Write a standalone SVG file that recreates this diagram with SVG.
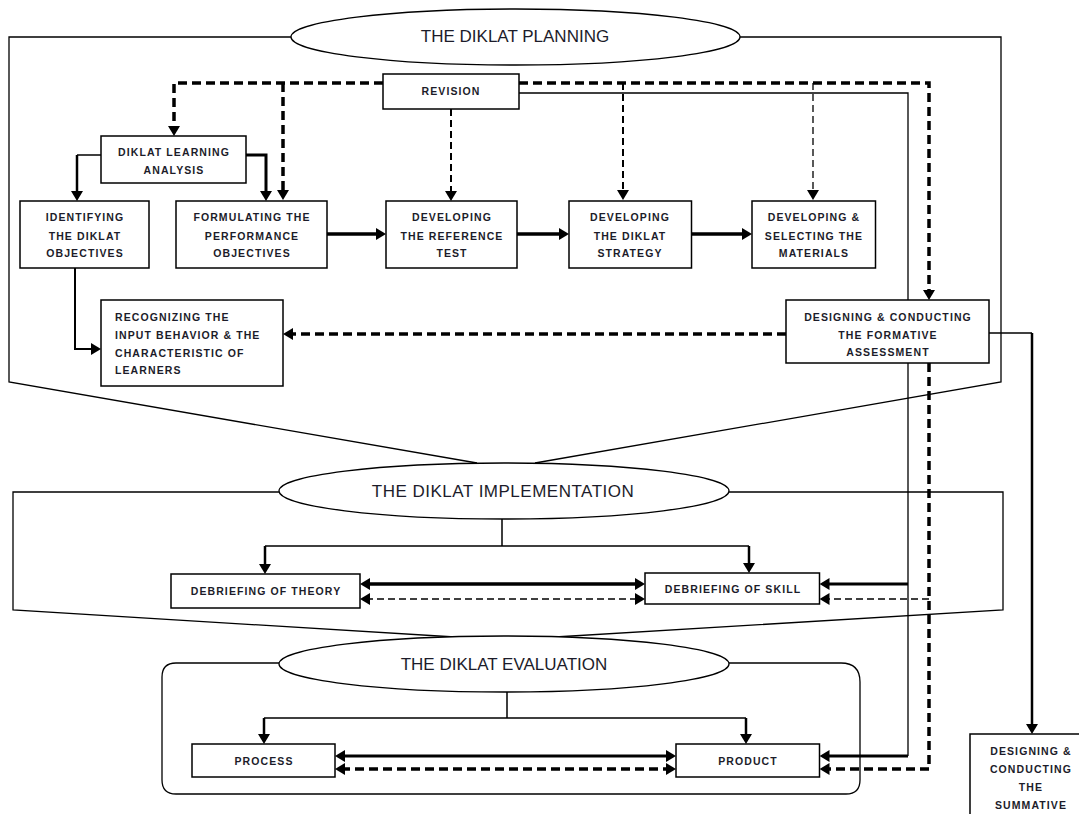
<svg xmlns="http://www.w3.org/2000/svg" width="1079" height="814" viewBox="0 0 1079 814">
<style>
.frame{fill:none;stroke:#000;stroke-width:1.3}
.box{fill:#fff;stroke:#000;stroke-width:1.5}
.ell{fill:#fff;stroke:#000;stroke-width:1.3}
.t{font-family:"Liberation Sans",Arial,sans-serif;font-size:10.5px;font-weight:bold;letter-spacing:1.1px;fill:#1c1c2a}
.c{text-anchor:middle}
.big{font-family:"Liberation Sans",Arial,sans-serif;font-size:17px;fill:#1c1c2a;text-anchor:middle}
.s{fill:none;stroke:#000}
.dk{stroke-width:3.5;stroke-dasharray:9 5}
.dm{stroke-width:2;stroke-dasharray:7 4}
.dt{stroke-width:1.3;stroke-dasharray:7 4}
.a{marker-end:url(#arr)}
.aa{marker-start:url(#arr);marker-end:url(#arr)}
</style>
<defs>
<marker id="arr" viewBox="0 0 10 12" refX="4" refY="6" markerWidth="10" markerHeight="12" markerUnits="userSpaceOnUse" orient="auto-start-reverse">
<path d="M0,0 L10,6 L0,12 z" fill="#000"/>
</marker>
</defs>
<rect width="1079" height="814" fill="#fff"/>

<g id="frames">
<path class="frame" d="M291,37 H9 V382 L477,463"/>
<path class="frame" d="M740,37 H1001 V382 L535,463"/>
<path class="frame" d="M279,492 H13 V610 L455,637"/>
<path class="frame" d="M729,492 H1003 V610 L555,637"/>
<path class="frame" d="M279,663 H176 Q162,663 162,677 V780 Q162,794 176,794 H846 Q860,794 860,780 V682 Q860,663 841,663 H729"/>
</g>

<g id="connectors">
<path class="s dk a" d="M383,83 H174 V130"/>
<path class="s dk a" d="M283,83 V194"/>
<path class="s dm a" d="M451,109 V195"/>
<path class="s dk a" d="M519,83 H929 V294"/>
<path class="s dm a" d="M623,83 V194"/>
<path class="s dt a" d="M813,83 V194"/>
<path class="s" stroke-width="1.3" d="M519,93 H908 V756"/>
<path class="s a" stroke-width="3" d="M908,756 H825.5"/>
<path class="s a" stroke-width="3" d="M908,584 H825.5"/>
<path class="s dk a" d="M929,363 V769 H825.5"/>
<path class="s dt a" d="M929,599 H825.5"/>
<path class="s dk a" d="M786,334 H289"/>
<path class="s" stroke-width="1.5" d="M989,333 H1032"/>
<path class="s a" stroke-width="2.5" d="M1032,333 V728"/>
<path class="s" stroke-width="1.5" d="M101,155 H77"/>
<path class="s a" stroke-width="2.5" d="M77,155 V195"/>
<path class="s a" stroke-width="3" d="M246,155 H266 V195"/>
<path class="s a" stroke-width="2" d="M75,268 V349 H95"/>
<path class="s a" stroke-width="3.5" d="M327,234 H380"/>
<path class="s a" stroke-width="3.5" d="M517,234 H563"/>
<path class="s a" stroke-width="3.5" d="M691.5,234 H746"/>
<path class="s" stroke-width="1.5" d="M502,519 V546 M265,546 H749"/>
<path class="s a" stroke-width="2.5" d="M265,546 V568"/>
<path class="s a" stroke-width="2.5" d="M749,546 V567"/>
<path class="s aa" stroke-width="3.5" d="M366,584 H639"/>
<path class="s dt aa" d="M366,599 H639"/>
<path class="s" stroke-width="1.5" d="M507,692 V718 M264,718 H746"/>
<path class="s a" stroke-width="2.5" d="M264,718 V738"/>
<path class="s a" stroke-width="2.5" d="M746,718 V738"/>
<path class="s aa" stroke-width="3" d="M341,756 H670"/>
<path class="s dk aa" d="M341,769 H670"/>
</g>

<g id="planning">
<ellipse class="ell" cx="515.5" cy="37" rx="224.5" ry="28"/>
<text class="big" x="515" y="42">THE DIKLAT PLANNING</text>
</g>
<g id="implementation">
<ellipse class="ell" cx="504" cy="491" rx="225" ry="28"/>
<text class="big" x="503" y="497" letter-spacing="0.5">THE DIKLAT IMPLEMENTATION</text>
</g>
<g id="evaluation">
<ellipse class="ell" cx="504" cy="664" rx="225" ry="28"/>
<text class="big" x="504" y="670">THE DIKLAT EVALUATION</text>
</g>

<g id="revision">
<rect class="box" x="383" y="74" width="136" height="35"/>
<text class="t c" x="451" y="95">REVISION</text>
</g>
<g id="learning-analysis">
<rect class="box" x="101" y="136" width="145" height="47"/>
<text class="t c" x="174" y="156">DIKLAT LEARNING</text>
<text class="t c" x="174" y="174">ANALYSIS</text>
</g>
<g id="identifying">
<rect class="box" x="20" y="201" width="129" height="67"/>
<text class="t c" x="85" y="221">IDENTIFYING</text>
<text class="t c" x="85" y="240">THE DIKLAT</text>
<text class="t c" x="85" y="257">OBJECTIVES</text>
</g>
<g id="formulating">
<rect class="box" x="176" y="201" width="151" height="67"/>
<text class="t c" x="252" y="221">FORMULATING THE</text>
<text class="t c" x="252" y="240">PERFORMANCE</text>
<text class="t c" x="252" y="257">OBJECTIVES</text>
</g>
<g id="reference-test">
<rect class="box" x="386" y="201" width="131" height="67"/>
<text class="t c" x="452" y="221">DEVELOPING</text>
<text class="t c" x="452" y="240">THE REFERENCE</text>
<text class="t c" x="452" y="257">TEST</text>
</g>
<g id="strategy">
<rect class="box" x="569" y="201" width="122.5" height="67"/>
<text class="t c" x="630" y="221">DEVELOPING</text>
<text class="t c" x="630" y="240">THE DIKLAT</text>
<text class="t c" x="630" y="257">STRATEGY</text>
</g>
<g id="materials">
<rect class="box" x="752" y="201" width="123.5" height="67"/>
<text class="t c" x="814" y="221">DEVELOPING &amp;</text>
<text class="t c" x="814" y="240">SELECTING THE</text>
<text class="t c" x="814" y="257">MATERIALS</text>
</g>
<g id="recognizing">
<rect class="box" x="101" y="300" width="182" height="86"/>
<text class="t" x="115" y="321">RECOGNIZING THE</text>
<text class="t" x="115" y="339">INPUT BEHAVIOR &amp; THE</text>
<text class="t" x="115" y="357">CHARACTERISTIC OF</text>
<text class="t" x="115" y="374">LEARNERS</text>
</g>
<g id="formative">
<rect class="box" x="786" y="300" width="203" height="63"/>
<text class="t c" x="888" y="321">DESIGNING &amp; CONDUCTING</text>
<text class="t c" x="888" y="339">THE FORMATIVE</text>
<text class="t c" x="888" y="356">ASSESSMENT</text>
</g>
<g id="theory">
<rect class="box" x="171" y="574" width="189" height="34"/>
<text class="t c" x="266" y="595">DEBRIEFING OF THEORY</text>
</g>
<g id="skill">
<rect class="box" x="645" y="573" width="174.5" height="31"/>
<text class="t c" x="733" y="593">DEBRIEFING OF SKILL</text>
</g>
<g id="process">
<rect class="box" x="192" y="744" width="143" height="33"/>
<text class="t c" x="264" y="765">PROCESS</text>
</g>
<g id="product">
<rect class="box" x="676" y="744" width="143.5" height="33"/>
<text class="t c" x="748" y="765">PRODUCT</text>
</g>
<g id="summative">
<rect class="box" x="970" y="734" width="130" height="100"/>
<text class="t c" x="1031" y="755">DESIGNING &amp;</text>
<text class="t c" x="1031" y="773">CONDUCTING</text>
<text class="t c" x="1031" y="791">THE</text>
<text class="t c" x="1031" y="809">SUMMATIVE</text>
</g>
</svg>
